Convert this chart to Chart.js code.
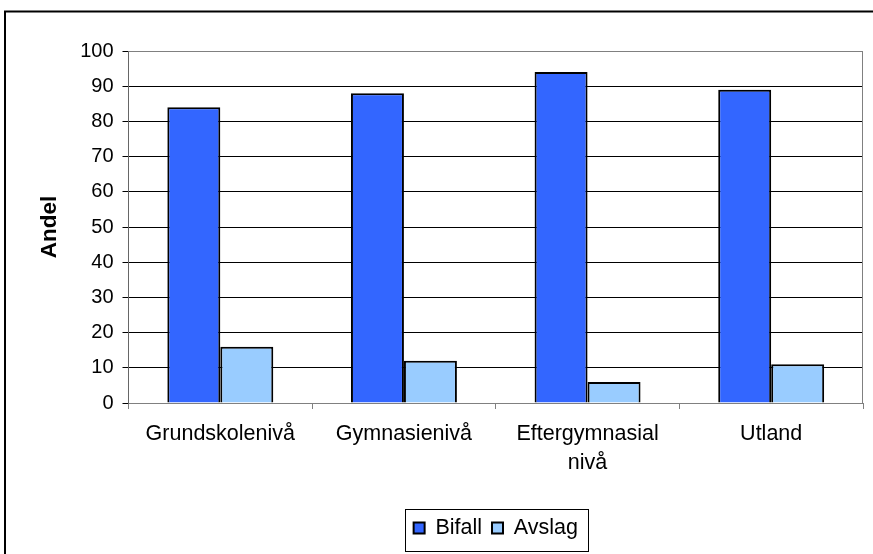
<!DOCTYPE html>
<html>
<head>
<meta charset="utf-8">
<script src="https://cdn.jsdelivr.net/npm/chart.js@4"></script>
<style>
  html, body { margin: 0; padding: 0; background: #fff; }
  #wrap { width: 873px; height: 554px; }
</style>
</head>
<body>
<div id="wrap"><canvas id="myChart" width="873" height="554"></canvas></div>
<script>
const kategorier = ["Grundskolenivå", "Gymnasienivå", ["Eftergymnasial", "nivå"], "Utland"];
const bifall = [84, 88, 94, 89];
const avslag = [16, 12, 6, 11];
const yTicks = [0, 10, 20, 30, 40, 50, 60, 70, 80, 90, 100];

const font = "'Liberation Sans', Arial, sans-serif";

// ram runt diagrammet, ram runt ritytan och runt förklaringen
const ramar = {
  id: "ramar",
  afterDraw(chart) {
    const ctx = chart.ctx;
    const a = chart.chartArea;
    ctx.save();
    ctx.strokeStyle = "#808080";
    ctx.lineWidth = 1;
    ctx.beginPath();
    ctx.moveTo(a.left, a.top + 0.5);
    ctx.lineTo(a.right - 0.5, a.top + 0.5);
    ctx.lineTo(a.right - 0.5, a.bottom);
    ctx.stroke();

    const hb = chart.legend.legendHitBoxes;
    if (hb && hb.length) {
      const first = hb[0], last = hb[hb.length - 1];
      const cy = first.top + first.height / 2;
      const x1 = Math.round(first.left - 9) + 0.5;
      const x2 = Math.round(last.left + last.width + 10) + 0.5;
      ctx.strokeStyle = "#000";
      ctx.strokeRect(x1, Math.round(cy - 19) + 0.5, x2 - x1, 42);
    }

    ctx.strokeStyle = "#000";
    ctx.lineWidth = 2;
    ctx.beginPath();
    ctx.moveTo(5, chart.height);
    ctx.lineTo(5, 11.5);
    ctx.lineTo(chart.width, 11.5);
    ctx.stroke();
    ctx.restore();
  }
};

new Chart(document.getElementById("myChart"), {
  type: "bar",
  data: {
    labels: kategorier,
    datasets: [
      {
        label: "Bifall",
        data: bifall,
        backgroundColor: "#3366FF",
        borderColor: "#000",
        borderWidth: 2,
      },
      {
        label: "Avslag",
        data: avslag,
        backgroundColor: "#99CCFF",
        borderColor: "#000",
        borderWidth: 2,
      },
    ],
  },
  options: {
    responsive: false,
    animation: false,
    devicePixelRatio: 1,
    layout: { padding: { top: 51, right: 10, bottom: 5.25, left: 0 } },
    datasets: { bar: { categoryPercentage: 0.577, barPercentage: 1 } },
    plugins: {
      tooltip: { enabled: false },
      legend: {
        position: "bottom",
        fullSize: false,
        labels: {
          boxWidth: 11,
          boxHeight: 11,
          padding: 10,
          color: "#000",
          font: { family: font, size: 21.5 },
        },
      },
    },
    scales: {
      x: {
        afterFit(scale) { scale.height = 104.25; },
        grid: { display: true, drawOnChartArea: false, tickLength: 6, color: "#808080" },
        border: { color: "#808080" },
        ticks: { color: "#000", padding: 11, font: { family: font, size: 21.5, lineHeight: 1.35 } },
      },
      y: {
        min: 0,
        max: 100,
        afterFit(scale) { scale.width = 128.5; },
        afterBuildTicks(scale) { scale.ticks = yTicks.map((v) => ({ value: v })); },
        grid: {
          color: (c) => (c.tick && c.tick.value === 100 ? "#808080" : "#000"),
          tickColor: "#000",
          tickLength: 6,
        },
        border: { color: "#666" },
        ticks: { color: "#000", padding: 9, font: { family: font, size: 20 } },
        title: {
          display: true,
          text: "Andel",
          color: "#000",
          padding: { top: 36, bottom: 0 },
          font: { family: font, size: 22.5, weight: "bold" },
        },
      },
    },
  },
  plugins: [ramar],
});
</script>
</body>
</html>
